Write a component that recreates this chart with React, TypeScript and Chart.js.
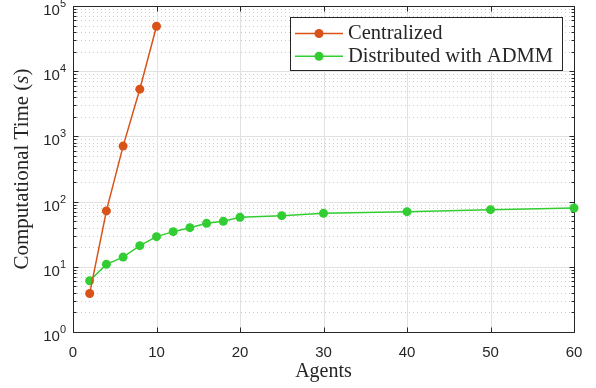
import { useEffect, useRef } from 'react';
import { Chart, registerables } from 'chart.js';

Chart.register(...registerables);

const centralAgents = [2, 4, 6, 8, 10];
const centralTime = [3.9, 72, 710, 5300, 49000];
const admmAgents = [2, 4, 6, 8, 10, 12, 14, 16, 18, 20, 25, 30, 40, 50, 60];
const admmTime = [6.1, 10.9, 14.1, 21.1, 29, 34.6, 39.8, 46.4, 49.8, 57.4, 60.8, 66.1, 70.1, 75.2, 79.8];
const xTicks = [0, 10, 20, 30, 40, 50, 60];
const yExponents = [0, 1, 2, 3, 4, 5];
const seriesNames = ['Centralized', 'Distributed with ADMM'];
const seriesColors = ['#d95319', '#32cd32'];
const xTitle = 'Agents';
const yTitleParts = ['Computational Time (', 's', ')'];

const SANS = '"Liberation Sans", Arial, Helvetica, sans-serif';
const SERIF = '"Liberation Serif", "Times New Roman", serif';
const AXIS = '#262626';

const matlabAxes = {
  id: 'matlabAxes',
  beforeDatasetsDraw(chart: any) {
    const { ctx, chartArea: a, scales } = chart;
    const xs = scales.x;
    const ys = scales.y;
    const r = (v: number) => Math.round(v) + 0.5;
    ctx.save();
    // minor y grid (dotted)
    ctx.lineWidth = 1;
    ctx.strokeStyle = '#cccccc';
    ctx.setLineDash([1, 3]);
    for (let e = 0; e < 5; e++) {
      for (let m = 2; m <= 9; m++) {
        const py = r(ys.getPixelForValue(m * Math.pow(10, e)));
        ctx.beginPath();
        ctx.moveTo(a.left, py);
        ctx.lineTo(a.right, py);
        ctx.stroke();
      }
    }
    ctx.setLineDash([]);
    // major grid
    ctx.strokeStyle = '#e2e2e2';
    for (const e of yExponents) {
      if (e === 0 || e === 5) continue;
      const py = r(ys.getPixelForValue(Math.pow(10, e)));
      ctx.beginPath();
      ctx.moveTo(a.left, py);
      ctx.lineTo(a.right, py);
      ctx.stroke();
    }
    for (const t of xTicks) {
      if (t === xTicks[0] || t === xTicks[xTicks.length - 1]) continue;
      const px = r(xs.getPixelForValue(t));
      ctx.beginPath();
      ctx.moveTo(px, a.top);
      ctx.lineTo(px, a.bottom);
      ctx.stroke();
    }
    // box
    ctx.strokeStyle = AXIS;
    ctx.lineWidth = 1;
    const L = r(a.left), R = r(a.right), T = r(a.top), B = r(a.bottom);
    ctx.strokeRect(L, T, R - L, B - T);
    // ticks
    ctx.beginPath();
    for (const t of xTicks) {
      const px = r(xs.getPixelForValue(t));
      ctx.moveTo(px, B);
      ctx.lineTo(px, B - 5);
      ctx.moveTo(px, T);
      ctx.lineTo(px, T + 5);
    }
    for (const e of yExponents) {
      const py = r(ys.getPixelForValue(Math.pow(10, e)));
      ctx.moveTo(L, py);
      ctx.lineTo(L + 5, py);
      ctx.moveTo(R, py);
      ctx.lineTo(R - 5, py);
      if (e < 5) {
        for (let m = 2; m <= 9; m++) {
          const pm = r(ys.getPixelForValue(m * Math.pow(10, e)));
          ctx.moveTo(L, pm);
          ctx.lineTo(L + 3, pm);
          ctx.moveTo(R, pm);
          ctx.lineTo(R - 3, pm);
        }
      }
    }
    ctx.stroke();

    // x tick labels
    ctx.fillStyle = AXIS;
    ctx.font = '15px ' + SANS;
    ctx.textAlign = 'center';
    ctx.textBaseline = 'alphabetic';
    for (const t of xTicks) {
      ctx.fillText(String(t), xs.getPixelForValue(t), a.bottom + 25);
    }
    // y tick labels 10^e
    for (const e of yExponents) {
      const py = ys.getPixelForValue(Math.pow(10, e));
      ctx.font = '11px ' + SANS;
      ctx.textAlign = 'right';
      const sup = String(e);
      const ws = ctx.measureText(sup).width;
      ctx.fillText(sup, a.left - 7, py + 1);
      ctx.font = '15px ' + SANS;
      ctx.fillText('10', a.left - 7 - ws, py + 9);
    }
    // x title
    ctx.font = '20px ' + SERIF;
    ctx.textAlign = 'center';
    ctx.fillText(xTitle, (a.left + a.right) / 2, 377);
    // y title
    ctx.save();
    ctx.translate(28, (a.top + a.bottom) / 2);
    ctx.rotate(-Math.PI / 2);
    ctx.textAlign = 'left';
    const fonts = ['21px ' + SERIF, 'italic 21px ' + SERIF, '21px ' + SERIF];
    let total = 0;
    const widths: number[] = [];
    yTitleParts.forEach((p, i) => {
      ctx.font = fonts[i];
      const w = ctx.measureText(p).width;
      widths.push(w);
      total += w;
    });
    let cx = -total / 2;
    yTitleParts.forEach((p, i) => {
      ctx.font = fonts[i];
      ctx.fillText(p, cx, 0);
      cx += widths[i];
    });
    ctx.restore();
    ctx.restore();
  },
  afterDraw(chart: any) {
    const { ctx, chartArea: a } = chart;
    ctx.save();
    ctx.font = '20.5px ' + SERIF;
    let maxW = 0;
    for (const n of seriesNames) maxW = Math.max(maxW, ctx.measureText(n).width);
    const boxW = 58 + maxW + 9;
    const boxR = Math.round(a.right - 12);
    const boxL = boxR - Math.round(boxW);
    const boxT = Math.round(a.top + 11);
    const boxH = 53;
    ctx.fillStyle = '#ffffff';
    ctx.fillRect(boxL, boxT, boxR - boxL, boxH);
    ctx.strokeStyle = AXIS;
    ctx.lineWidth = 1;
    ctx.strokeRect(boxL + 0.5, boxT + 0.5, boxR - boxL, boxH);
    seriesNames.forEach((n, i) => {
      const cy = boxT + 16.5 + i * 22.7;
      ctx.strokeStyle = seriesColors[i];
      ctx.lineWidth = 1.5;
      ctx.beginPath();
      ctx.moveTo(boxL + 5, cy);
      ctx.lineTo(boxL + 53, cy);
      ctx.stroke();
      ctx.fillStyle = seriesColors[i];
      ctx.beginPath();
      ctx.arc(boxL + 29, cy, 4.5, 0, Math.PI * 2);
      ctx.fill();
      ctx.fillStyle = AXIS;
      ctx.textAlign = 'left';
      ctx.textBaseline = 'alphabetic';
      ctx.fillText(n, boxL + 58, cy + 5.5);
    });
    ctx.restore();
  },
};

export default function App() {
  const ref = useRef<HTMLCanvasElement | null>(null);
  useEffect(() => {
    document.body.style.margin = '0';
    const canvas = ref.current;
    if (!canvas) return;
    const mk = (xs: number[], ys: number[]) => xs.map((x, i) => ({ x, y: ys[i] }));
    const ds = (i: number, data: any[]) => ({
      label: seriesNames[i],
      data,
      borderColor: seriesColors[i],
      backgroundColor: seriesColors[i],
      pointBackgroundColor: seriesColors[i],
      pointBorderColor: seriesColors[i],
      pointRadius: 4.5,
      pointBorderWidth: 0,
      borderWidth: 1.5,
      tension: 0,
      clip: false as any,
    });
    const chart = new Chart(canvas, {
      type: 'line',
      data: {
        datasets: [ds(0, mk(centralAgents, centralTime)), ds(1, mk(admmAgents, admmTime))],
      },
      options: {
        animation: false,
        responsive: false,
        devicePixelRatio: 1,
        layout: { padding: { top: 6, right: 22, left: 0, bottom: 0 } },
        plugins: { legend: { display: false }, tooltip: { enabled: false } },
        scales: {
          x: {
            type: 'linear',
            min: 0,
            max: 60,
            ticks: { display: false },
            grid: { display: false },
            border: { display: false },
            afterFit: (s: any) => {
              s.height = 56;
            },
          },
          y: {
            type: 'logarithmic',
            min: 1,
            max: 1e5,
            ticks: { display: false },
            grid: { display: false },
            border: { display: false },
            afterFit: (s: any) => {
              s.width = 73;
            },
          },
        },
      } as any,
      plugins: [matlabAxes],
    });
    return () => chart.destroy();
  }, []);
  return <canvas ref={ref} width={596} height={388} style={{ display: 'block', width: 596, height: 388 }} />;
}
